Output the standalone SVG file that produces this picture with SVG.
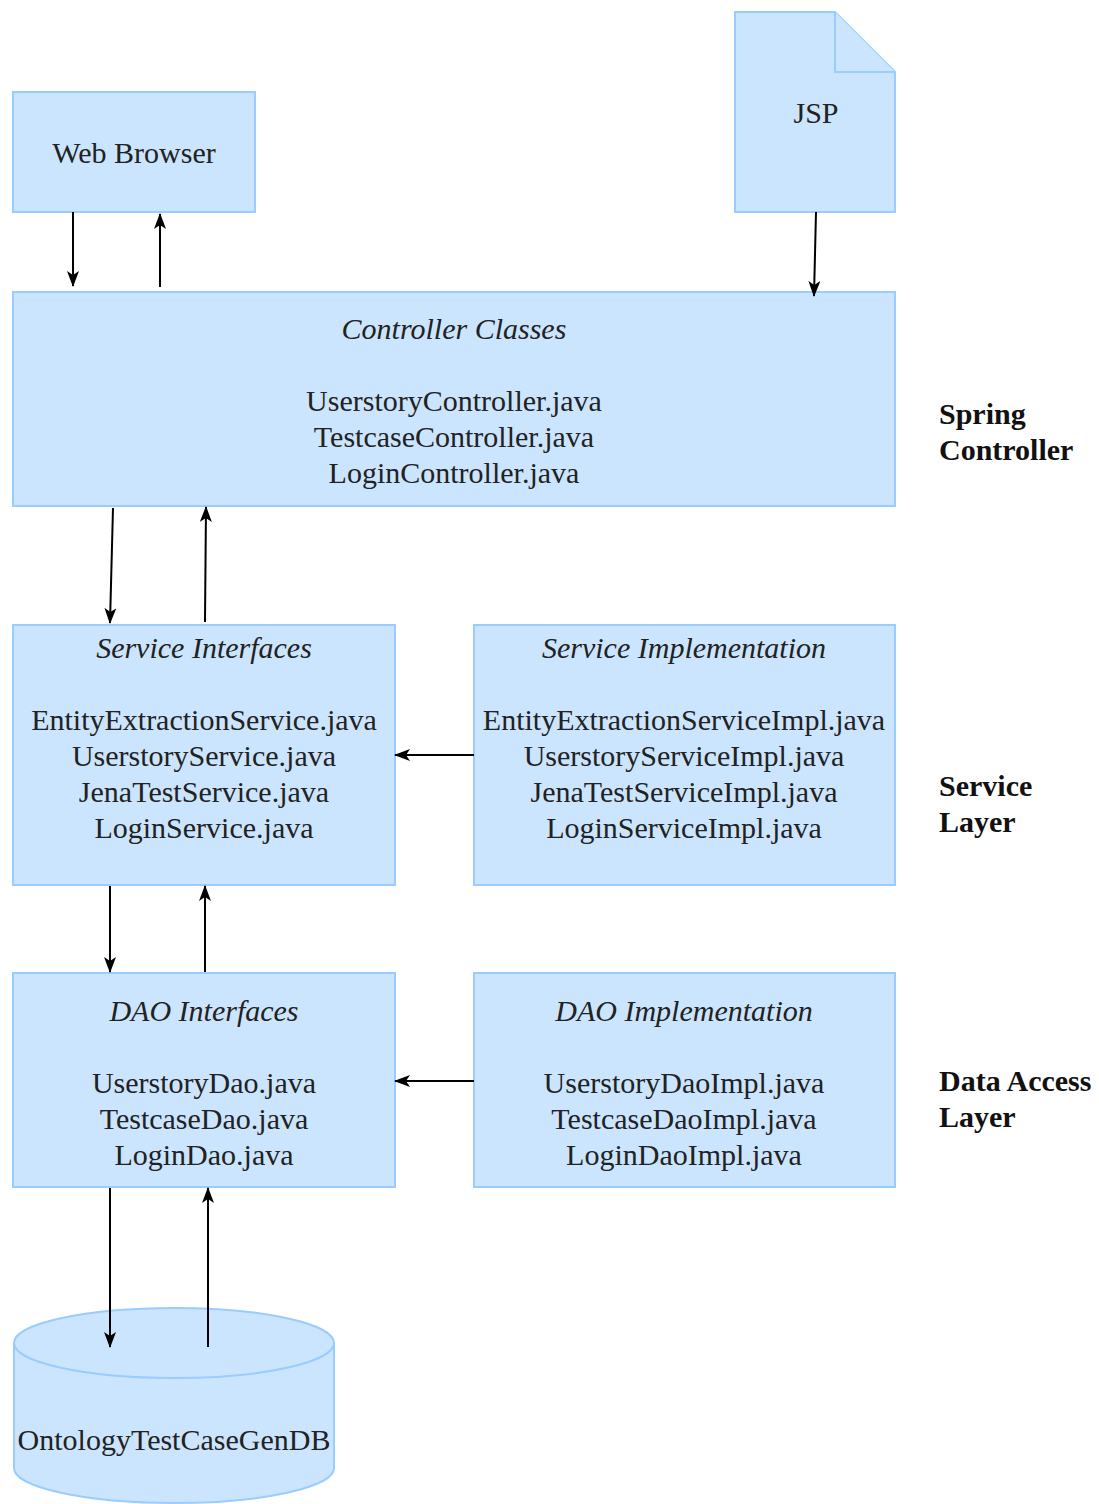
<svg xmlns="http://www.w3.org/2000/svg" width="1099" height="1504" viewBox="0 0 1099 1504">
<style>
.box{fill:#cce5ff;stroke:#99ccff;stroke-width:2}
.t{font-family:"Liberation Serif","Times New Roman",serif;font-size:30px;fill:#222;text-anchor:middle}
.i{font-style:italic}
.lbl{font-family:"Liberation Serif","Times New Roman",serif;font-size:30px;font-weight:bold;fill:#111}
.c{stroke:#000;stroke-width:2;fill:none;marker-end:url(#ah)}
</style>
<defs>
<marker id="ah" viewBox="0 0 16 12" refX="15" refY="6" markerWidth="16" markerHeight="12" markerUnits="userSpaceOnUse" orient="auto">
<path d="M0,0 L16,6 L0,12 L4,6 Z" fill="#000"/>
</marker>
</defs>
<rect width="1099" height="1504" fill="#fff"/>
<g id="web-browser"><rect class="box" x="13" y="92" width="242" height="120"/><text class="t" x="134" y="163">Web Browser</text></g>
<g id="jsp"><path class="box" d="M735,12 H835 L895,72 V212 H735 Z"/><path class="box" d="M835,12 V72 H895"/><text class="t" x="816" y="123">JSP</text></g>
<g id="controller"><rect class="box" x="13" y="292" width="882" height="214"/>
<text class="t i" x="454" y="339">Controller Classes</text>
<text class="t" x="454" y="411">UserstoryController.java</text>
<text class="t" x="454" y="447">TestcaseController.java</text>
<text class="t" x="454" y="483">LoginController.java</text></g>
<g id="service-interfaces"><rect class="box" x="13" y="625" width="382" height="260"/>
<text class="t i" x="204" y="658">Service Interfaces</text>
<text class="t" x="204" y="730">EntityExtractionService.java</text>
<text class="t" x="204" y="766">UserstoryService.java</text>
<text class="t" x="204" y="802">JenaTestService.java</text>
<text class="t" x="204" y="838">LoginService.java</text></g>
<g id="service-impl"><rect class="box" x="474" y="625" width="421" height="260"/>
<text class="t i" x="684" y="658">Service Implementation</text>
<text class="t" x="684" y="730">EntityExtractionServiceImpl.java</text>
<text class="t" x="684" y="766">UserstoryServiceImpl.java</text>
<text class="t" x="684" y="802">JenaTestServiceImpl.java</text>
<text class="t" x="684" y="838">LoginServiceImpl.java</text></g>
<g id="dao-interfaces"><rect class="box" x="13" y="973" width="382" height="214"/>
<text class="t i" x="204" y="1021">DAO Interfaces</text>
<text class="t" x="204" y="1093">UserstoryDao.java</text>
<text class="t" x="204" y="1129">TestcaseDao.java</text>
<text class="t" x="204" y="1165">LoginDao.java</text></g>
<g id="dao-impl"><rect class="box" x="474" y="973" width="421" height="214"/>
<text class="t i" x="684" y="1021">DAO Implementation</text>
<text class="t" x="684" y="1093">UserstoryDaoImpl.java</text>
<text class="t" x="684" y="1129">TestcaseDaoImpl.java</text>
<text class="t" x="684" y="1165">LoginDaoImpl.java</text></g>
<g id="db"><path class="box" d="M14,1343 A160,35 0 0 1 334,1343 V1468 A160,35 0 0 1 14,1468 Z"/><path class="box" d="M14,1343 A160,35 0 0 0 334,1343" fill="none"/>
<text class="t" x="174" y="1450">OntologyTestCaseGenDB</text></g>
<g id="labels">
<text class="lbl" x="939" y="424">Spring</text><text class="lbl" x="939" y="460">Controller</text>
<text class="lbl" x="939" y="796">Service</text><text class="lbl" x="939" y="832">Layer</text>
<text class="lbl" x="939" y="1091">Data Access</text><text class="lbl" x="939" y="1127">Layer</text>
</g>
<g id="connectors">
<line class="c" x1="73" y1="212" x2="73" y2="286"/>
<line class="c" x1="160" y1="287" x2="160" y2="214"/>
<line class="c" x1="816" y1="212" x2="814" y2="296"/>
<line class="c" x1="113" y1="508" x2="110" y2="623"/>
<line class="c" x1="205" y1="622" x2="206" y2="507"/>
<line class="c" x1="474" y1="755" x2="395" y2="755"/>
<line class="c" x1="110" y1="886" x2="110" y2="972"/>
<line class="c" x1="205" y1="972" x2="205" y2="886"/>
<line class="c" x1="474" y1="1081" x2="395" y2="1081"/>
<line class="c" x1="110" y1="1188" x2="110" y2="1347"/>
<line class="c" x1="208" y1="1347" x2="208" y2="1188"/>
</g>
</svg>
